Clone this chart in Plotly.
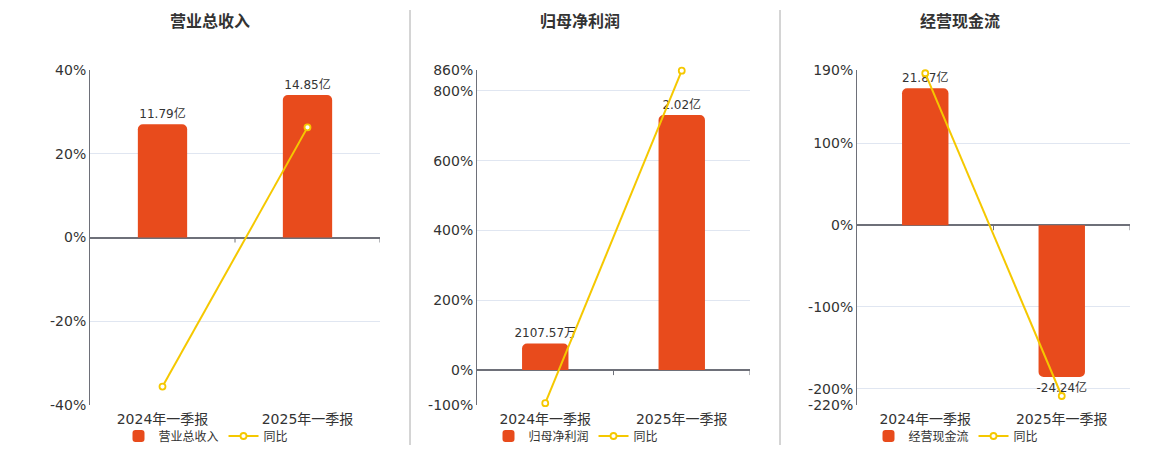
import plotly.graph_objects as go

# data
quarters = ["2024年一季报", "2025年一季报"]

titles = ["营业总收入", "归母净利润", "经营现金流"]

rev_vals = [11.79, 14.85]
rev_text = ["11.79亿", "14.85亿"]
rev_yoy = [-35.6, 26.3]

np_vals = [0.2108, 2.02]
np_text = ["2107.57万", "2.02亿"]
np_yoy = [-94.8, 858.0]

cf_vals = [21.87, -24.24]
cf_text = ["21.87亿", "-24.24亿"]
cf_yoy = [186.0, -209.0]

pct_ranges = [[-40, 40], [-100, 860], [-220, 190]]
pct_ticks = [[-40, -20, 0, 20, 40],
             [-100, 0, 200, 400, 600, 800, 860],
             [-220, -200, -100, 0, 100, 190]]
# bar axis scale: units of bar value per 1% on the percent axis
bar_scale = [17.45 / 40, 2.377 / 860, 0.1305]

BAR = "#E84B1C"
LINE = "#F5C800"
AXIS = "#6E7079"
GRID = "#E0E6F1"
TXT = "#333333"
FONT = "DejaVu Sans, Noto Sans CJK SC, sans-serif"

W, H = 1160, 450
OFF = 8  # page body margin


def px(x):
    return (x - OFF) / W


def py(y):
    return 1 - (y - OFF) / H


xdoms = [[px(90), px(380)], [px(477), px(750)], [px(857), px(1130)]]
ydom = [py(405), py(70)]
centers = [px(206), px(576), px(956)]
title_x = [px(210), px(580), px(960)]

fig = go.Figure()

series = [(rev_vals, rev_text, rev_yoy), (np_vals, np_text, np_yoy), (cf_vals, cf_text, cf_yoy)]

for i, (vals, text, yoy) in enumerate(series):
    n = i + 1
    xa = "x" if n == 1 else "x%d" % n
    ya_bar = "y" if n == 1 else "y%d" % (2 * n - 1)
    ya_pct = "y%d" % (2 * n)
    leg = "legend" if n == 1 else "legend%d" % n

    fig.add_trace(go.Bar(
        x=quarters, y=vals, text=text, textposition="outside",
        textfont=dict(size=12, color=TXT), cliponaxis=False,
        constraintext="none",
        marker=dict(color=BAR, cornerradius=5, line_width=0),
        width=0.34, name=titles[i], xaxis=xa, yaxis=ya_bar,
        legend=leg, hoverinfo="skip"))
    fig.add_trace(go.Scatter(
        x=quarters, y=yoy, mode="lines+markers", name="同比",
        line=dict(color=LINE, width=2), cliponaxis=False,
        marker=dict(size=6, color="white", line=dict(color=LINE, width=1.8)),
        xaxis=xa, yaxis=ya_pct, legend=leg))

    r0, r1 = pct_ranges[i]
    k = bar_scale[i]
    xkey = "xaxis" if n == 1 else "xaxis%d" % n
    ybkey = "yaxis" if n == 1 else "yaxis%d" % (2 * n - 1)
    ypkey = "yaxis%d" % (2 * n)

    fig.layout[xkey] = dict(
        domain=xdoms[i], anchor=ya_bar, type="category",
        range=[-0.5, 1.5], showline=False, showgrid=False, ticks="",
        ticklabelstandoff=4, tickfont=dict(size=14, color=TXT))
    fig.layout[ybkey] = dict(
        domain=ydom, anchor=xa, range=[r0 * k, r1 * k],
        showticklabels=False, ticks="", showline=False,
        showgrid=False, zeroline=False)
    fig.layout[ypkey] = dict(
        domain=ydom, anchor=xa, overlaying=ya_bar, side="left",
        range=[r0, r1], tickmode="array", tickvals=pct_ticks[i],
        ticktext=["%d%%" % v for v in pct_ticks[i]],
        showline=True, linecolor=AXIS, linewidth=1,
        showgrid=True, gridcolor=GRID, gridwidth=1,
        zeroline=True, zerolinecolor=AXIS, zerolinewidth=1.5,
        tickfont=dict(size=14, color=TXT), ticks="")

    # small tick marks hanging from the zero line at category boundaries
    for bx in [0.5, 1.5]:
        fig.add_shape(type="line", xref=xa, yref=ya_pct,
                      ysizemode="pixel", yanchor=0,
                      x0=bx, x1=bx, y0=0, y1=-5,
                      line=dict(color=AXIS, width=1))

    fig.layout[leg] = dict(
        orientation="h", x=centers[i], xanchor="center", y=py(436),
        yanchor="middle", font=dict(size=12, color=TXT),
        bgcolor="rgba(0,0,0,0)", itemwidth=30)

    fig.add_annotation(
        text="<b>%s</b>" % titles[i], x=title_x[i], y=py(22),
        xref="paper", yref="paper", xanchor="center", yanchor="middle",
        showarrow=False, font=dict(size=16, color=TXT))

for sx in [410, 780]:
    fig.add_shape(type="line", xref="paper", yref="paper",
                  x0=px(sx), x1=px(sx), y0=py(445), y1=py(10),
                  line=dict(color="#AAAAAA", width=1))

fig.update_layout(
    width=W, height=H,
    margin=dict(l=0, r=0, t=0, b=0, autoexpand=False),
    paper_bgcolor="white", plot_bgcolor="white",
    font=dict(family=FONT, color=TXT), showlegend=True)

fig.write_html("out.html")
